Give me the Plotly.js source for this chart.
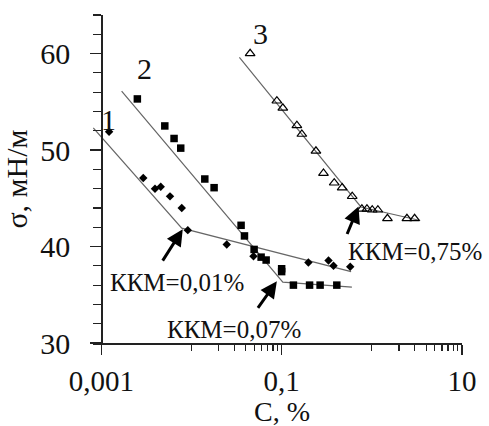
<!DOCTYPE html>
<html><head><meta charset="utf-8">
<script src="https://cdn.plot.ly/plotly-3.0.1.min.js"></script>
<style>html,body{margin:0;padding:0;background:#fff;}</style>
</head><body><div id="chart" style="width:489px;height:426px;"></div>
<script>
// Series 1 (diamonds)
const s1C = [0.00122, 0.00292, 0.00394, 0.00456, 0.00578, 0.0078, 0.0091, 0.0246, 0.0487, 0.198, 0.331, 0.376, 0.576];
const s1S = [51.9, 47.1, 46.0, 46.2, 45.2, 44.0, 41.7, 40.2, 39.0, 38.35, 38.55, 38.0, 37.9];
const s1FitC = [0.000815, 0.0078, 0.589];
const s1FitS = [52.3, 41.9, 37.4];
// Series 2 (squares)
const s2C = [0.00251, 0.00506, 0.00641, 0.0076, 0.01405, 0.01782, 0.0355, 0.0387, 0.0495, 0.0592, 0.0673, 0.1, 0.1, 0.135, 0.204, 0.267, 0.409];
const s2S = [55.3, 52.5, 51.2, 50.2, 47.0, 46.1, 42.2, 41.1, 39.7, 38.9, 38.6, 37.7, 37.4, 36.0, 36.0, 36.0, 36.0];
const s2FitC = [0.00168, 0.103, 0.601];
const s2FitS = [56.1, 36.3, 35.8];
// Series 3 (open triangles)
const s3C = [0.0447, 0.0885, 0.103, 0.1475, 0.1675, 0.240, 0.291, 0.383, 0.469, 0.606, 0.776, 0.883, 1.01, 1.167, 1.49, 2.45, 2.98];
const s3S = [60.0, 55.1, 54.35, 52.55, 51.65, 49.9, 47.6, 46.6, 46.1, 45.2, 43.9, 43.9, 43.8, 43.8, 42.9, 42.9, 42.9];
const s3FitC = [0.034, 0.757, 3.44];
const s3FitS = [59.6, 44.1, 42.7];
// Axis ticks
const xMajor = [0.001, 0.1, 10];
const xMajorText = ['0,001', '0,1', '10'];
const xMinor = [0.01, 0.02, 0.03, 0.04, 0.05, 0.06, 0.07, 0.08, 0.09, 1, 2, 3, 4, 5, 6, 7, 8, 9];
// Labels
const seriesNames = ['1', '2', '3'];
const cmcLabels = ['ККМ=0,01%', 'ККМ=0,07%', 'ККМ=0,75%'];
const cmcPoints = [[0.0080, 41.8], [0.0885, 36.4], [0.712, 44.15]];

const FONT = "'Liberation Serif', 'Times New Roman', serif";
const lineStyle = {color: '#666', width: 1.2};
const traces = [
  {x: s1FitC, y: s1FitS, mode: 'lines', line: lineStyle, hoverinfo: 'skip'},
  {x: s2FitC, y: s2FitS, mode: 'lines', line: lineStyle, hoverinfo: 'skip'},
  {x: s3FitC, y: s3FitS, mode: 'lines', line: lineStyle, hoverinfo: 'skip'},
  {x: s1C, y: s1S, mode: 'markers', name: seriesNames[0], marker: {symbol: 'diamond', size: 6.5, color: '#000'}},
  {x: s2C, y: s2S, mode: 'markers', name: seriesNames[1], marker: {symbol: 'square', size: 7.5, color: '#000'}},
  {x: s3C, y: s3S, mode: 'markers', name: seriesNames[2], marker: {symbol: 'triangle-up-open', size: 8.5, color: '#000', line: {width: 1.2, color: '#000'}}}
];

// pixel helpers for label placement (plot area: x 93..461.7, y 15.2..343.3)
const L = 93, R = 27.3, T = 15.2, B = 82.7, W = 489, H = 426;
const pw = W - L - R, ph = H - T - B;
const px = v => (v - L) / pw;
const py = v => (H - B - v) / ph;

function label(text, x, y, size) {
  return {xref: 'paper', yref: 'paper', x: px(x), y: py(y), xanchor: 'center', yanchor: 'middle',
          text: text, showarrow: false, font: {family: FONT, size: size, color: '#111'}};
}
function arrow(pt, ax, ay) {
  return {x: Math.log10(pt[0]), y: pt[1], text: '', showarrow: true, arrowhead: 2, arrowsize: 1.1,
          arrowwidth: 3, arrowcolor: '#000', ax: ax, ay: ay};
}

const annotations = [
  label(seriesNames[0], 108.5, 120, 30),
  label(seriesNames[1], 144, 69, 30),
  label(seriesNames[2], 260, 34, 30),
  label(cmcLabels[0], 176.5, 283, 25),
  label(cmcLabels[1], 233.5, 330, 25),
  label(cmcLabels[2], 414.5, 252, 25),
  label('C, %', 281.5, 412, 28),
  arrow(cmcPoints[0], -21, 33),
  arrow(cmcPoints[1], -20, 28),
  arrow(cmcPoints[2], -12, 29)
];

const layout = {
  width: W, height: H,
  margin: {l: L, r: R, t: T, b: B, pad: 0},
  paper_bgcolor: '#fff', plot_bgcolor: '#fff',
  showlegend: false,
  font: {family: FONT, color: '#111'},
  xaxis: {
    type: 'log', range: [Math.log10(0.001) - 0.0921, 1],
    tickmode: 'array', tickvals: xMajor, ticktext: xMajorText,
    ticks: 'outside', ticklen: 10, tickwidth: 1.3, tickcolor: '#222',
    minor: {tickmode: 'array', tickvals: xMinor, ticks: 'outside', ticklen: 6, tickwidth: 1.2, tickcolor: '#222', showgrid: false},
    showline: true, linecolor: '#222', linewidth: 1.5,
    showgrid: false, zeroline: false,
    tickfont: {family: FONT, size: 29, color: '#111'},
    ticklabelstandoff: 2
  },
  yaxis: {
    range: [30, 64], anchor: 'free', position: 0.0921 / 4.0921,
    tickmode: 'linear', tick0: 30, dtick: 10,
    ticks: 'outside', ticklen: 11, tickwidth: 1.3, tickcolor: '#222',
    minor: {dtick: 2, ticks: 'outside', ticklen: 8, tickwidth: 1.2, tickcolor: '#222', showgrid: false},
    showline: true, linecolor: '#222', linewidth: 1.5,
    showgrid: false, zeroline: false,
    tickfont: {family: FONT, size: 30, color: '#111'},
    ticklabelstandoff: 14,
    title: {text: 'σ, мН/м', font: {family: FONT, size: 30, color: '#111'}, standoff: 12}
  },
  annotations: annotations
};

Plotly.newPlot('chart', traces, layout, {staticPlot: true, displayModeBar: false});
</script>
</body></html>
